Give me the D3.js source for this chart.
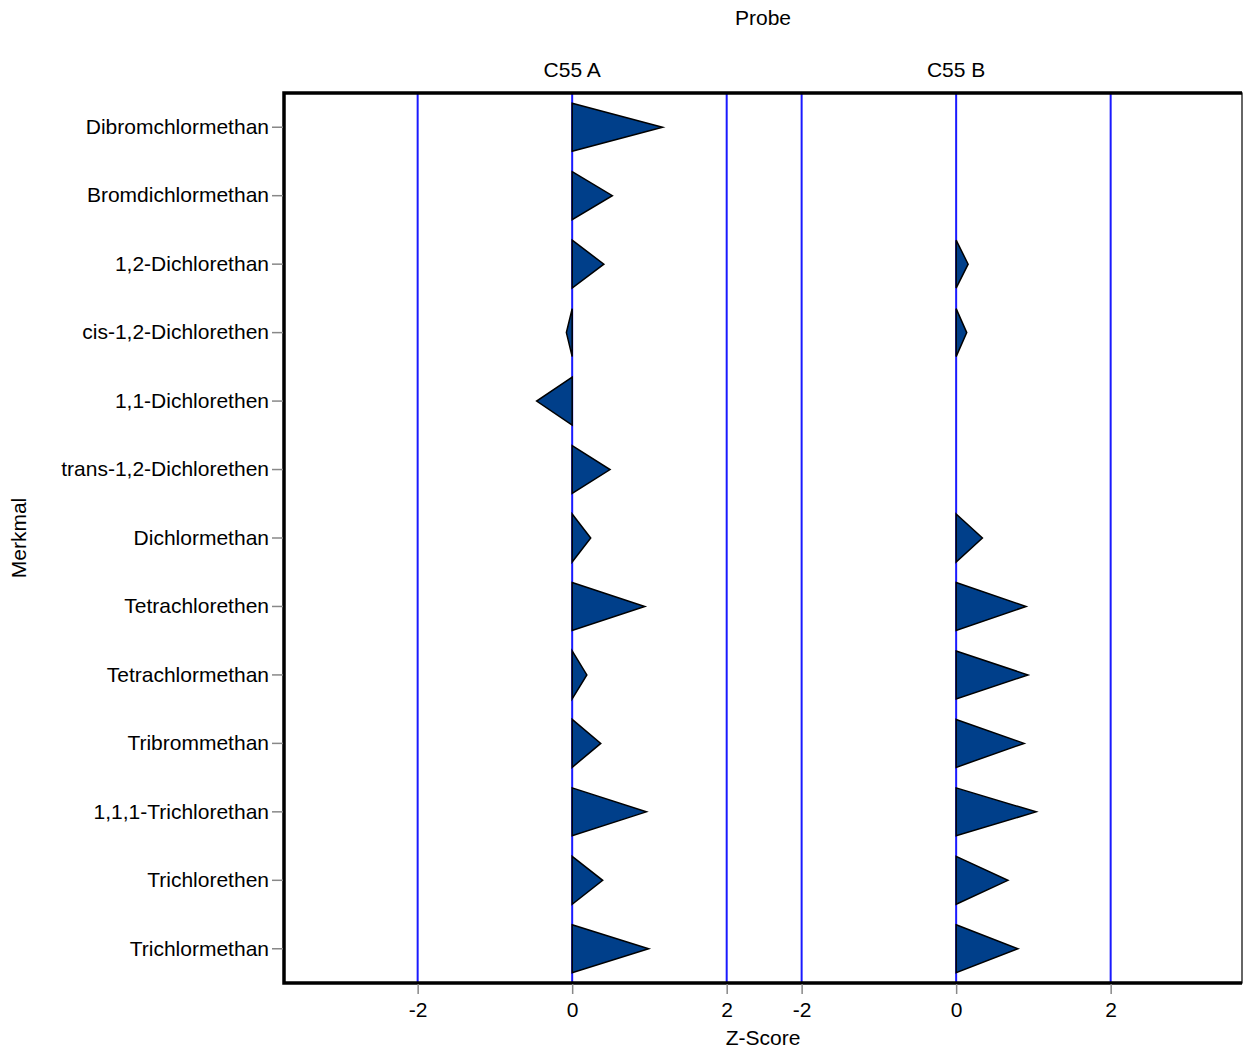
<!DOCTYPE html>
<html>
<head>
<meta charset="utf-8">
<script src="https://cdn.jsdelivr.net/npm/d3@7"></script>
<style>
  html, body { margin: 0; padding: 0; background: #fff; }
  text { font-family: "Liberation Sans", Arial, sans-serif; fill: #000; }
</style>
</head>
<body>
<svg id="chart" width="1244" height="1054"></svg>
<script>
const categories = [
  "Dibromchlormethan", "Bromdichlormethan", "1,2-Dichlorethan", "cis-1,2-Dichlorethen",
  "1,1-Dichlorethen", "trans-1,2-Dichlorethen", "Dichlormethan", "Tetrachlorethen",
  "Tetrachlormethan", "Tribrommethan", "1,1,1-Trichlorethan", "Trichlorethen", "Trichlormethan"
];
const panels = ["C55 A", "C55 B"];
const valuesA = [1.17, 0.52, 0.41, -0.075, -0.46, 0.49, 0.24, 0.94, 0.19, 0.37, 0.96, 0.395, 0.99];
const valuesB = [null, null, 0.155, 0.137, null, null, 0.34, 0.905, 0.93, 0.88, 1.035, 0.67, 0.80];
const domainA = [-3.73, 2.47];
const domainB = [-2.50, 3.70];
const xTicks = [-2, 0, 2];
const xTickLabels = ["-2", "0", "2"];

(function () {
const svg = d3.select("#chart");
const mLeft = 284, mRight = 1242, mTop = 93, mBottom = 983;
const mid = (mLeft + mRight) / 2;
const fs = 21;

const y = d3.scaleBand().domain(categories).range([mTop, mBottom]).padding(0);
const panelDefs = [
  { name: panels[0], values: valuesA, x: d3.scaleLinear().domain(domainA).range([mLeft, mid]) },
  { name: panels[1], values: valuesB, x: d3.scaleLinear().domain(domainB).range([mid, mRight]) }
];

// reference lines
panelDefs.forEach(p => {
  svg.append("g").selectAll("line").data(xTicks).join("line")
    .attr("x1", d => p.x(d)).attr("x2", d => p.x(d))
    .attr("y1", mTop).attr("y2", mBottom)
    .attr("stroke", "#1a1aff").attr("stroke-width", 2);
});

// triangles
const half = y.bandwidth() * 0.35;
panelDefs.forEach(p => {
  const data = categories.map((c, i) => ({ c, v: p.values[i] })).filter(d => d.v !== null);
  svg.append("g").selectAll("path").data(data).join("path")
    .attr("d", d => {
      const cy = y(d.c) + y.bandwidth() / 2;
      const x0 = p.x(0), x1 = p.x(d.v);
      return `M${x0},${cy - half}L${x1},${cy}L${x0},${cy + half}Z`;
    })
    .attr("fill", "#003f8a")
    .attr("stroke", "#000")
    .attr("stroke-width", 1.5)
    .attr("stroke-linejoin", "miter");
});

// frame
svg.append("rect").attr("x", mLeft).attr("y", mTop).attr("width", mRight - mLeft).attr("height", mBottom - mTop)
  .attr("fill", "none").attr("stroke", "#000").attr("stroke-width", 1.2);
svg.append("path").attr("d", `M${mRight},${mTop}H${mLeft}V${mBottom}H${mRight}`)
  .attr("fill", "none").attr("stroke", "#000").attr("stroke-width", 3.5);

// y axis
const yAxis = d3.axisLeft(y).tickSize(11).tickPadding(3);
const gy = svg.append("g").attr("transform", `translate(${mLeft - 1},0)`).call(yAxis);
gy.select(".domain").remove();
gy.selectAll(".tick line").attr("stroke", "#888").attr("stroke-width", 1.5);
gy.selectAll(".tick text").attr("font-size", fs).attr("font-family", "Liberation Sans, Arial, sans-serif");

// x axes
panelDefs.forEach(p => {
  const xAxis = d3.axisBottom(p.x).tickValues(xTicks).tickFormat((d, i) => xTickLabels[i]).tickSize(10).tickPadding(8);
  const gx = svg.append("g").attr("transform", `translate(0,${mBottom + 1})`).call(xAxis);
  gx.select(".domain").remove();
  gx.selectAll(".tick line").attr("stroke", "#888").attr("stroke-width", 1.5);
  gx.selectAll(".tick text").attr("font-size", fs).attr("font-family", "Liberation Sans, Arial, sans-serif");
  svg.append("text").attr("x", p.x(0)).attr("y", 77).attr("text-anchor", "middle")
    .attr("font-size", fs).text(p.name);
});

svg.append("text").attr("x", mid).attr("y", 25).attr("text-anchor", "middle").attr("font-size", fs).text("Probe");
svg.append("text").attr("x", mid).attr("y", 1045).attr("text-anchor", "middle").attr("font-size", fs).text("Z-Score");
svg.append("text").attr("transform", `translate(26,${(mTop + mBottom) / 2}) rotate(-90)`)
  .attr("text-anchor", "middle").attr("font-size", fs).text("Merkmal");
})();
</script>
</body>
</html>
